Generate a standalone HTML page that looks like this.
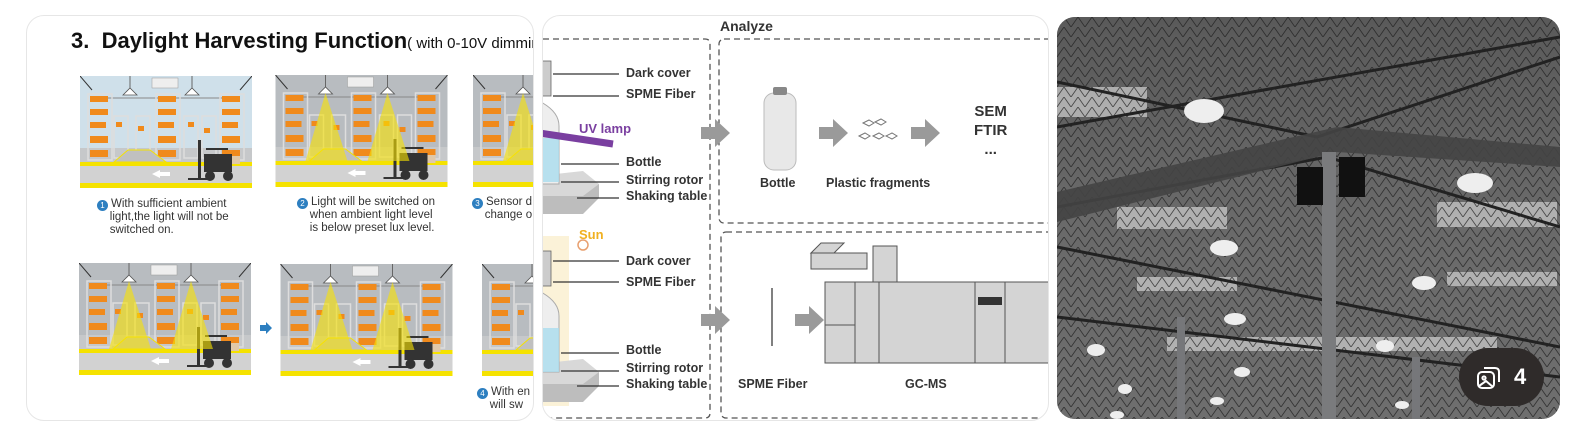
<!DOCTYPE html>
<html><head><meta charset="utf-8"><style>
body{margin:0;width:1594px;height:440px;background:#fff;position:relative;overflow:hidden;font-family:"Liberation Sans",Arial,sans-serif}
.p{position:absolute;border:1px solid #e6e6e6;border-radius:18px;overflow:hidden;background:#fff}
.t{position:absolute;white-space:nowrap}
.cap{position:absolute;font-size:11.5px;line-height:13px;color:#333;white-space:nowrap}
.b{display:inline-block;width:11px;height:11px;border-radius:50%;background:#2d7fc0;color:#fff;font-size:8px;line-height:11px;text-align:center;margin-right:3px;vertical-align:-1px}
.l{position:absolute;font-size:12.5px;font-weight:bold;color:#333;white-space:nowrap}
</style></head><body>
<svg width="0" height="0" style="position:absolute">
<defs>
<symbol id="wh" viewBox="0 0 172 112">
<rect width="172" height="112" fill="currentColor"/>
<rect y="72" width="172" height="16" fill="#c6c8ca"/>
<rect y="86" width="172" height="4" fill="#f5e200"/>
<rect y="90" width="172" height="18" fill="#d2d2d2"/>
<rect y="107" width="172" height="5" fill="#f5e200"/>
<line x1="0" y1="0" x2="12" y2="14" stroke="#333"/><line x1="172" y1="0" x2="160" y2="14" stroke="#333"/>
<line x1="12" y1="22" x2="160" y2="22" stroke="#888"/>
<g fill="none" stroke="#ddd" stroke-width="1.5">
<rect x="8" y="18" width="24" height="66"/><rect x="76" y="18" width="24" height="66"/><rect x="140" y="18" width="24" height="66"/>
<rect x="34" y="40" width="14" height="42"/><rect x="56" y="40" width="14" height="42"/><rect x="104" y="40" width="14" height="42"/><rect x="122" y="40" width="14" height="42"/></g>
<g fill="#f08a1c">
<rect x="10" y="20" width="18" height="6"/><rect x="10" y="33" width="18" height="6"/><rect x="10" y="46" width="16" height="6"/><rect x="10" y="60" width="18" height="7"/><rect x="10" y="74" width="18" height="7"/>
<rect x="78" y="20" width="18" height="6"/><rect x="78" y="33" width="18" height="6"/><rect x="78" y="46" width="16" height="6"/><rect x="78" y="60" width="18" height="7"/><rect x="78" y="74" width="18" height="7"/>
<rect x="142" y="20" width="18" height="6"/><rect x="142" y="33" width="18" height="6"/><rect x="142" y="46" width="16" height="6"/><rect x="142" y="60" width="18" height="7"/><rect x="142" y="74" width="18" height="7"/>
<rect x="36" y="46" width="6" height="5"/><rect x="58" y="50" width="6" height="5"/><rect x="108" y="46" width="6" height="5"/><rect x="124" y="52" width="6" height="5"/></g>
<polygon points="34,86 48,74 70,74 86,86" fill="#c0c0c0" stroke="#f5e200"/>
<rect x="72" y="2" width="26" height="10" fill="#eee" stroke="#999" stroke-width=".5"/>
<path d="M50 0v12M112 0v12" stroke="#666"/>
<path d="M43 19 L50 12 L57 19Z M105 19 L112 12 L119 19Z" fill="#fff" stroke="#555" stroke-width=".8"/>
<polygon points="72,98 80,94 80,96 90,96 90,100 80,100 80,102" fill="#fff"/>
<g fill="#333"><rect x="118" y="64" width="3" height="40"/><rect x="108" y="102" width="20" height="2"/><rect x="124" y="78" width="28" height="18"/><rect x="126" y="72" width="22" height="2"/><circle cx="130" cy="100" r="5"/><circle cx="148" cy="100" r="5"/></g>
<rect x="152" y="80" width="8" height="8" fill="#e0c8a8"/>
</symbol>
<symbol id="cone" viewBox="0 0 172 112">
<polygon points="50,18 30,86 72,86" fill="#f8e200" opacity=".6"/>
<polygon points="112,18 92,86 134,86" fill="#f8e200" opacity=".6"/>
</symbol>
</defs></svg>

<!-- Panel 1 -->
<div class="p" style="left:26px;top:15px;width:506px;height:404px">
<div class="t" style="left:44px;top:12px;font-size:22px;font-weight:bold;color:#111">3.&nbsp; Daylight Harvesting Function<span style="font-size:15px;font-weight:normal">( with 0-10V dimming</span></div>
<svg class="t" style="left:53px;top:60px;color:#cfe0ea" width="172" height="112"><use href="#wh"/></svg>
<svg class="t" style="left:248px;top:59px;color:#b8bcc0" width="173" height="112"><use href="#wh"/><use href="#cone"/></svg>
<svg class="t" style="left:446px;top:59px;color:#b8bcc0" width="172" height="112"><use href="#wh"/><use href="#cone"/></svg>
<div class="cap" style="left:70px;top:182px"><span class="b">1</span>With sufficient ambient<br>&nbsp;&nbsp;&nbsp;&nbsp;light,the light will not be<br>&nbsp;&nbsp;&nbsp;&nbsp;switched on.</div>
<div class="cap" style="left:270px;top:180px"><span class="b">2</span>Light will be switched on<br>&nbsp;&nbsp;&nbsp;&nbsp;when ambient light level<br>&nbsp;&nbsp;&nbsp;&nbsp;is below preset lux level.</div>
<div class="cap" style="left:445px;top:180px"><span class="b">3</span>Sensor d<br>&nbsp;&nbsp;&nbsp;&nbsp;change o</div>
<svg class="t" style="left:52px;top:247px;color:#b8bcc0" width="172" height="112"><use href="#wh"/><use href="#cone"/></svg>
<svg class="t" style="left:233px;top:306px" width="12" height="12"><polygon points="0,3 6,3 6,0 12,6 6,12 6,9 0,9" fill="#2d7fc0"/></svg>
<svg class="t" style="left:253px;top:248px;color:#b8bcc0" width="173" height="112"><use href="#wh"/><use href="#cone"/></svg>
<svg class="t" style="left:455px;top:248px;color:#b8bcc0" width="172" height="112"><use href="#wh"/></svg>
<div class="cap" style="left:450px;top:370px"><span class="b">4</span>With en<br>&nbsp;&nbsp;&nbsp;&nbsp;will sw</div>
</div>

<!-- Panel 2 -->
<div class="p" style="left:542px;top:15px;width:505px;height:404px">
<svg class="t" style="left:0;top:0" width="520" height="404">
<g fill="none" stroke="#555" stroke-width="1.3" stroke-dasharray="6,4">
<path d="M-10 23 H162 Q167 23 167 28 V397 Q167 402 162 402 H-10"/>
<rect x="176" y="23" width="360" height="184" rx="5"/>
<rect x="178" y="216" width="360" height="186" rx="5"/>
</g>
<!-- upper apparatus -->
<polygon points="-6,160 40,155 56,168 56,180 40,194 -6,194" fill="#d8d8d8"/><polygon points="-6,180 40,180 56,168 56,182 40,198 -6,198" fill="#bdbdbd"/>
<rect x="-4" y="45" width="12" height="35" fill="#ccc" stroke="#666" stroke-width=".8"/>
<path d="M-4 85 Q16 95 16 110 V168 H-4Z" fill="#eee" stroke="#aaa"/>
<rect x="-4" y="122" width="20" height="44" fill="#a9dcee" opacity=".8"/>
<line x1="-4" y1="117" x2="70" y2="128" stroke="#7a3fa0" stroke-width="7"/>
<!-- lower apparatus -->
<rect x="-4" y="220" width="30" height="170" fill="#fbf2d8"/>
<circle cx="40" cy="229" r="5" fill="none" stroke="#e8a070" stroke-width="1.5"/>
<polygon points="-6,348 40,343 56,356 56,368 40,382 -6,382" fill="#d8d8d8"/><polygon points="-6,368 40,368 56,356 56,370 40,386 -6,386" fill="#bdbdbd"/>
<rect x="-4" y="235" width="12" height="35" fill="#ccc" stroke="#666" stroke-width=".8"/>
<path d="M-4 275 Q16 285 16 300 V356 H-4Z" fill="#eee" stroke="#aaa"/>
<rect x="-4" y="312" width="20" height="44" fill="#a9dcee" opacity=".8"/>
<g stroke="#333" stroke-width="1.2">
<path d="M10 58 H76 M10 80 H76 M18 148 H76 M18 166 H76 M34 182 H76"/>
<path d="M10 245 H76 M10 266 H76 M18 337 H76 M18 355 H76 M34 370 H76"/>
</g>
<g fill="#9a9a9a">
<polygon points="158,111 172,111 172,103 187,117 172,131 172,123 158,123"/>
<polygon points="158,298 172,298 172,290 187,304 172,318 172,310 158,310"/>
<polygon points="276,111 290,111 290,103 305,117 290,131 290,123 276,123"/>
<polygon points="368,111 382,111 382,103 397,117 382,131 382,123 368,123"/>
<polygon points="252,298 266,298 266,290 281,304 266,318 266,310 252,310"/>
</g>
<rect x="221" y="77" width="32" height="77" rx="10" fill="#e8e8e8" stroke="#bbb"/>
<rect x="230" y="71" width="14" height="8" rx="2" fill="#888"/>
<g fill="#fff" stroke="#777"><polygon points="320,107 326,104 331,107 326,110"/><polygon points="332,106 338,103 343,106 338,109"/><polygon points="316,120 322,117 327,120 322,123"/><polygon points="330,120 336,117 341,120 336,123"/><polygon points="343,120 349,117 354,120 349,123"/></g>
<line x1="229" y1="272" x2="229" y2="330" stroke="#555" stroke-width="1.5"/>
<g fill="#d4d4d4" stroke="#555" stroke-width="1">
<rect x="268" y="237" width="56" height="16"/><polygon points="268,237 278,227 301,227 291,237"/>
<rect x="330" y="230" width="24" height="37"/>
<rect x="282" y="266" width="230" height="81"/>
<rect x="282" y="266" width="30" height="43"/><rect x="312" y="266" width="24" height="81"/><rect x="432" y="266" width="30" height="81"/>
</g>
<rect x="435" y="281" width="24" height="8" fill="#333"/>
</svg>
<div class="t" style="left:177px;top:2px;font-size:14px;font-weight:bold;color:#333">Analyze</div>
<div class="l" style="left:83px;top:50px">Dark cover</div>
<div class="l" style="left:83px;top:71px">SPME Fiber</div>
<div class="l" style="left:36px;top:105px;color:#7a3fa0;font-size:13px">UV lamp</div>
<div class="l" style="left:83px;top:139px">Bottle</div>
<div class="l" style="left:83px;top:157px">Stirring rotor</div>
<div class="l" style="left:83px;top:173px">Shaking table</div>
<div class="l" style="left:36px;top:211px;color:#f0b020;font-size:13px">Sun</div>
<div class="l" style="left:83px;top:238px">Dark cover</div>
<div class="l" style="left:83px;top:259px">SPME Fiber</div>
<div class="l" style="left:83px;top:327px">Bottle</div>
<div class="l" style="left:83px;top:345px">Stirring rotor</div>
<div class="l" style="left:83px;top:361px">Shaking table</div>
<div class="l" style="left:217px;top:160px">Bottle</div>
<div class="l" style="left:283px;top:160px">Plastic fragments</div>
<div class="l" style="left:431px;top:86px;font-size:15px;line-height:19px;text-align:center">SEM<br>FTIR<br>...</div>
<div class="l" style="left:195px;top:361px">SPME Fiber</div>
<div class="l" style="left:362px;top:361px">GC-MS</div>
</div>

<!-- Panel 3 photo -->
<div class="p" style="left:1057px;top:17px;width:503px;height:402px;background:#5a5a5a;border:none">
<svg width="503" height="402" style="position:absolute;left:0;top:0">
<defs><linearGradient id="g" x1="0" y1="0" x2="0" y2="1"><stop offset="0" stop-color="#5a5a5a"/><stop offset=".5" stop-color="#6a6a6a"/><stop offset="1" stop-color="#6e6e6e"/></linearGradient>
<pattern id="tr" width="14" height="10" patternUnits="userSpaceOnUse"><path d="M0 10 L7 0 L14 10" fill="none" stroke="#1c1c1c" stroke-width=".9"/></pattern></defs>
<rect width="503" height="402" fill="url(#g)"/>
<g fill="#cfcfcf" opacity=".7"><rect x="0" y="70" width="90" height="30"/><rect x="60" y="190" width="110" height="22"/><rect x="380" y="185" width="120" height="25"/><rect x="80" y="260" width="100" height="14"/><rect x="390" y="255" width="110" height="14"/><rect x="110" y="320" width="330" height="14"/></g>
<rect width="503" height="402" fill="url(#tr)" opacity=".7"/>
<g stroke="#222" stroke-width="3" fill="none"><path d="M0 65 L260 120 L503 40"/><path d="M0 190 L270 140 L503 210"/><path d="M0 230 L503 330"/><path d="M0 300 L503 360"/><path d="M0 110 L503 20"/></g>
<g fill="#444" opacity=".9"><polygon points="0,175 280,110 503,130 503,150 280,135 0,205"/></g>
<rect x="265" y="135" width="14" height="270" fill="#7a7b7d"/>
<rect x="120" y="300" width="8" height="105" fill="#76777a"/><rect x="355" y="340" width="8" height="65" fill="#76777a"/>
<rect x="240" y="150" width="26" height="38" fill="#111"/><rect x="282" y="140" width="26" height="40" fill="#111"/>
<g fill="#eee"><ellipse cx="147" cy="94" rx="20" ry="12"/><ellipse cx="418" cy="166" rx="18" ry="10"/><ellipse cx="167" cy="231" rx="14" ry="8"/><ellipse cx="367" cy="266" rx="12" ry="7"/><ellipse cx="178" cy="302" rx="11" ry="6"/><ellipse cx="39" cy="333" rx="9" ry="6"/><ellipse cx="328" cy="329" rx="9" ry="6"/><ellipse cx="185" cy="355" rx="8" ry="5"/><ellipse cx="68" cy="372" rx="7" ry="5"/><ellipse cx="160" cy="384" rx="7" ry="4"/><ellipse cx="60" cy="398" rx="7" ry="4"/><ellipse cx="345" cy="388" rx="7" ry="4"/></g>
</svg>
<div style="position:absolute;left:402px;top:331px;width:85px;height:58px;border-radius:29px;background:#2f2b2a;color:#fff;font-size:22px;font-weight:bold">
<svg style="position:absolute;left:16px;top:16px" width="28" height="28" viewBox="0 0 28 28" fill="none" stroke="#fff" stroke-width="2"><rect x="3" y="8" width="16" height="16" rx="4"/><path d="M9 4 H20 Q24 4 24 8 V18"/><circle cx="9" cy="14" r="1.6"/><path d="M4 22 L11 17 L18 23"/></svg>
<span style="position:absolute;left:55px;top:16px">4</span></div>
</div>
</body></html>
